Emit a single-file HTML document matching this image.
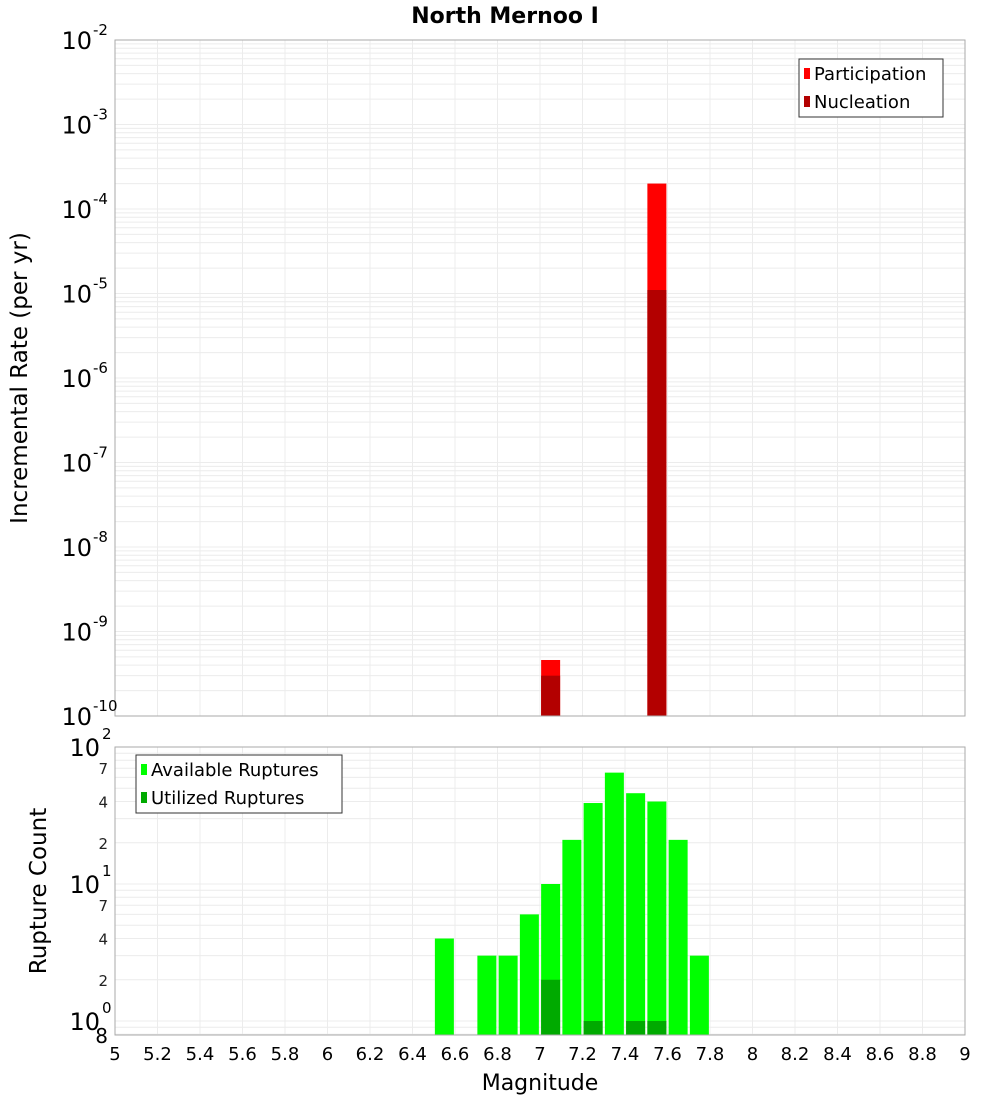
<!DOCTYPE html>
<html><head><meta charset="utf-8"><style>
body{margin:0;background:#fff;font-family:"Liberation Sans","DejaVu Sans",sans-serif}
svg{display:block}
</style></head><body>
<svg id="chart" width="1000" height="1100" xmlns="http://www.w3.org/2000/svg" font-family="DejaVu Sans, Liberation Sans, sans-serif">
<text x="505" y="23" text-anchor="middle" font-size="22" font-weight="bold">North Mernoo I</text>
<g id="topplot"></g>
<g id="botplot"></g>
<text transform="translate(27,378) rotate(-90)" text-anchor="middle" font-size="23">Incremental Rate (per yr)</text>
<text transform="translate(46,891) rotate(-90)" text-anchor="middle" font-size="23">Rupture Count</text>
<text x="540" y="1090" text-anchor="middle" font-size="22">Magnitude</text>
</svg>
<script>
const binCenters=[7.05,7.55];
const participation=[4.6e-10,2e-4];
const nucleation=[3e-10,1.1e-5];
const ruptureBins=[6.55,6.75,6.85,6.95,7.05,7.15,7.25,7.35,7.45,7.55,7.65,7.75];
const available=[4,3,3,6,10,21,39,65,46,40,21,3];
const utilizedBins=[7.05,7.25,7.45,7.55];
const utilized=[2,1,1,1];
const xTicks=[5,5.2,5.4,5.6,5.8,6,6.2,6.4,6.6,6.8,7,7.2,7.4,7.6,7.8,8,8.2,8.4,8.6,8.8,9];

const NS="http://www.w3.org/2000/svg";
const X0=115,X1=965;
const xs=m=>X0+(m-5)/4*(X1-X0);
const yTop=v=>716-(Math.log10(v)+10)*84.5;
const yBot=v=>1021-Math.log10(v)*137;
function el(p,t,a){const e=document.createElementNS(NS,t);for(const k in a)e.setAttribute(k,a[k]);p.appendChild(e);return e;}
const gTop=document.getElementById('topplot'),gBot=document.getElementById('botplot');
const svg=document.getElementById('chart');

function grid(g,yf,ymin,ymax,d0,d1,Y0,Y1){
  for(let d=d0;d<=d1;d++)for(let k=1;k<=9;k++){const v=k*Math.pow(10,d);if(v<ymin||v>ymax)continue;const yy=yf(v);
    const l=el(g,'line',{x1:X0,x2:X1,y1:yy,y2:yy,stroke:'#ececec','stroke-width':1});
    
    }
  xTicks.forEach(t=>{const l=el(g,'line',{x1:xs(t),x2:xs(t),y1:Y0,y2:Y1,stroke:'#ececec','stroke-width':1});
    
    });
}
grid(gTop,yTop,1e-10,1e-2,-10,-3,40,716);
grid(gBot,yBot,0.8,100,-1,1,747,1035);

const bw=19;
binCenters.forEach((m,i)=>{
  const r=el(gTop,'rect',{x:xs(m)-bw/2,y:yTop(participation[i]),width:bw,height:716-yTop(participation[i]),fill:'#ff0000'});
  
  
  const n=el(gTop,'rect',{x:xs(m)-bw/2,y:yTop(nucleation[i]),width:bw,height:716-yTop(nucleation[i]),fill:'#b30000'});
  
  
});
ruptureBins.forEach((m,i)=>{
  const r=el(gBot,'rect',{x:xs(m)-bw/2,y:yBot(available[i]),width:bw,height:1035-yBot(available[i]),fill:'#00ff00'});
  
  
});
utilizedBins.forEach((m,i)=>{
  const r=el(gBot,'rect',{x:xs(m)-bw/2,y:yBot(utilized[i]),width:bw,height:1035-yBot(utilized[i]),fill:'#00aa00'});
  
  
});
let f=el(gTop,'rect',{x:X0,y:40,width:X1-X0,height:676,fill:'none',stroke:'#aaa'});

f=el(gBot,'rect',{x:X0,y:747,width:X1-X0,height:288,fill:'none',stroke:'#aaa'});


for(let d=-10;d<=-2;d++){const yy=yTop(Math.pow(10,d));
  const t=el(svg,'text',{x:92,y:yy+9,'text-anchor':'end','font-size':24});t.textContent='10';
  
  const s=el(svg,'text',{x:93,y:yy-5,'font-size':15});s.textContent=String(d);
  }
[0,1,2].forEach(d=>{const yy=yBot(Math.pow(10,d));
  const t=el(svg,'text',{x:100,y:yy+9,'text-anchor':'end','font-size':24});t.textContent='10';
  
  const s=el(svg,'text',{x:102,y:yy-8,'font-size':15});s.textContent=String(d);
  });
[2,4,7,20,40,70].forEach(v=>{const t=el(svg,'text',{x:108,y:yBot(v)+6,'text-anchor':'end','font-size':15,fill:'#222'});t.textContent=String(v)[0];
  });
{const t=el(svg,'text',{x:108,y:1043,'text-anchor':'end','font-size':20});t.textContent='8';
 }
xTicks.forEach(v=>{const t=el(svg,'text',{x:xs(v),y:1060,'text-anchor':'middle','font-size':18});t.textContent=String(v);
  });

function legend(x0,y0,w,items,name){
  const g=el(svg,'g',{});
  
  
  el(g,'rect',{x:x0,y:y0,width:w,height:58,fill:'#fff',stroke:'#333'});
  items.forEach((it,i)=>{el(g,'rect',{x:x0+5,y:y0+9+i*28,width:6,height:11,fill:it[1]});
    const t=el(g,'text',{x:x0+15,y:y0+21+i*28,'font-size':18});t.textContent=it[0];
    
    });
}
legend(799,59,144,[['Participation','#ff0000'],['Nucleation','#b30000']],'top-legend');
legend(136,755,206,[['Available Ruptures','#00ff00'],['Utilized Ruptures','#00aa00']],'bottom-legend');
</script>
</body></html>
